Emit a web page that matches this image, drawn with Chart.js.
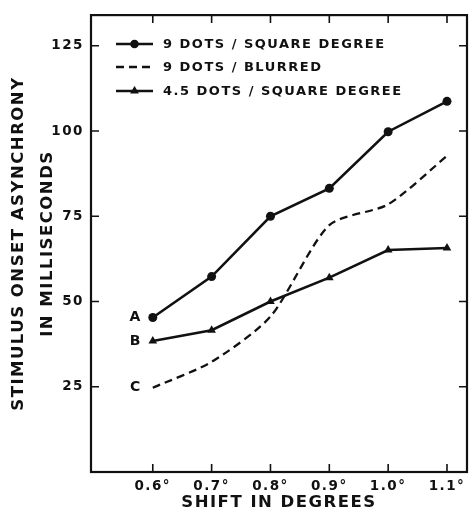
<!DOCTYPE html>
<html>
<head>
<meta charset="utf-8">
<script src="https://cdn.jsdelivr.net/npm/chart.js@4/dist/chart.umd.min.js"></script>
<style>
  html, body { margin: 0; padding: 0; background: #fff; }
  #wrap { width: 472px; height: 514px; }
</style>
</head>
<body>
<div id="wrap"><canvas id="grafico"></canvas></div>
<script>
// valores
var shiftDeg = [0.6, 0.7, 0.8, 0.9, 1.0, 1.1];
var dots9 = [45.3, 57.3, 75, 83.2, 99.8, 108.7];
var dots9Blur = [24.7, 32.3, 45.6, 72.4, 78.5, 92.7];
var dots45 = [38.4, 41.6, 50, 57, 65.1, 65.7];
var seriesNames = ["9 DOTS / SQUARE DEGREE", "9 DOTS / BLURRED", "4.5 DOTS / SQUARE DEGREE"];
var curveLetters = ["A", "C", "B"];
var yTickVals = [25, 50, 75, 100, 125];

var FONT = "'DejaVu Sans', sans-serif";
var ink = "#111";

function pontos(vals) {
  return shiftDeg.map(function (x, i) { return { x: x, y: vals[i] }; });
}

// ticks pra dentro, caixa, legenda e letras A B C
var extras = {
  id: "extras",
  beforeDraw: function (chart) {
    chart.ctx.letterSpacing = "1.5px";
  },
  afterDraw: function (chart) {
    var ctx = chart.ctx;
    var a = chart.chartArea;
    var sx = chart.scales.x, sy = chart.scales.y;
    ctx.save();
    ctx.strokeStyle = ink;
    ctx.lineWidth = 2.2;
    ctx.strokeRect(a.left, a.top, a.right - a.left, a.bottom - a.top);
    ctx.lineWidth = 1.6;
    ctx.beginPath();
    shiftDeg.forEach(function (v) {
      var px = sx.getPixelForValue(v);
      ctx.moveTo(px, a.bottom); ctx.lineTo(px, a.bottom - 8);
      ctx.moveTo(px, a.top); ctx.lineTo(px, a.top + 8);
    });
    yTickVals.forEach(function (v) {
      var py = sy.getPixelForValue(v);
      ctx.moveTo(a.left, py); ctx.lineTo(a.left + 8, py);
      ctx.moveTo(a.right, py); ctx.lineTo(a.right - 8, py);
    });
    ctx.stroke();

    // legenda
    ctx.fillStyle = ink;
    ctx.font = "bold 13px " + FONT;
    ctx.textBaseline = "middle";
    ctx.textAlign = "left";
    var rows = [44, 67, 91];
    chart.data.datasets.forEach(function (ds, i) {
      var y = rows[i];
      var x0 = a.left + 25, x1 = a.left + 62;
      ctx.save();
      ctx.lineWidth = ds.borderWidth;
      ctx.setLineDash(ds.borderDash || []);
      ctx.beginPath(); ctx.moveTo(x0, y); ctx.lineTo(x1, y); ctx.stroke();
      ctx.restore();
      if (ds.pointRadius > 0) {
        Chart.helpers.drawPoint(ctx, { pointStyle: ds.pointStyle, radius: 3.5, borderWidth: 1 }, (x0 + x1) / 2, y);
        ctx.fill();
      }
      ctx.fillText(seriesNames[i], a.left + 72, y + 1);
    });

    // letras no inicio das curvas
    ctx.font = "bold 14px " + FONT;
    ctx.textAlign = "center";
    chart.data.datasets.forEach(function (ds, i) {
      var p = ds.data[0];
      ctx.fillText(curveLetters[i], sx.getPixelForValue(p.x) - 17, sy.getPixelForValue(p.y));
    });
    ctx.restore();
  }
};

new Chart("grafico", {
  type: "line",
  data: {
    datasets: [
      {
        label: seriesNames[0],
        data: pontos(dots9),
        borderColor: ink,
        backgroundColor: ink,
        borderWidth: 2.6,
        pointStyle: "circle",
        pointRadius: 4.5,
        pointBorderWidth: 0
      },
      {
        label: seriesNames[1],
        data: pontos(dots9Blur),
        borderColor: ink,
        borderWidth: 2.3,
        borderDash: [8, 5],
        tension: 0.25,
        pointRadius: 0
      },
      {
        label: seriesNames[2],
        data: pontos(dots45),
        borderColor: ink,
        backgroundColor: ink,
        borderWidth: 2.6,
        pointStyle: "triangle",
        pointRadius: 5,
        pointBorderWidth: 0
      }
    ]
  },
  plugins: [extras],
  options: {
    responsive: true,
    maintainAspectRatio: false,
    animation: false,
    layout: { padding: { top: 14, right: 3, left: 0, bottom: 0 } },
    plugins: {
      legend: { display: false },
      tooltip: { enabled: false }
    },
    scales: {
      x: {
        type: "linear",
        min: 0.495,
        max: 1.134,
        afterFit: function (s) { s.height = 42; },
        afterBuildTicks: function (s) { s.ticks = shiftDeg.map(function (v) { return { value: v }; }); },
        grid: { display: false, drawTicks: false },
        border: { display: false },
        ticks: {
          color: ink,
          padding: 6,
          maxRotation: 0,
          font: { family: FONT, size: 13.5, weight: "bold" },
          callback: function (v) { return Number(v).toFixed(1) + "°"; }
        },
        title: {
          display: true,
          text: "SHIFT IN DEGREES",
          color: ink,
          padding: { top: 0, bottom: 1 },
          font: { family: FONT, size: 16.5, weight: "bold", lineHeight: 1.2 }
        }
      },
      y: {
        min: 0,
        max: 134,
        afterFit: function (s) { s.width = 91; },
        afterBuildTicks: function (s) { s.ticks = yTickVals.map(function (v) { return { value: v }; }); },
        grid: { display: false, drawTicks: false },
        border: { display: false },
        ticks: {
          color: ink,
          padding: 7,
          font: { family: FONT, size: 13.5, weight: "bold" }
        },
        title: {
          display: true,
          text: ["STIMULUS ONSET ASYNCHRONY", "IN MILLISECONDS"],
          color: ink,
          padding: { top: 4, bottom: 0 },
          font: { family: FONT, size: 16.5, weight: "bold", lineHeight: 1.75 }
        }
      }
    }
  }
});
</script>
</body>
</html>
